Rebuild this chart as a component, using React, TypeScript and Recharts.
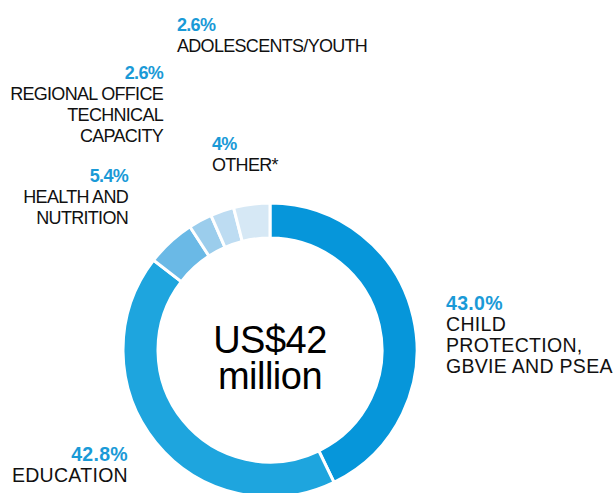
import React from 'react';
import { PieChart, Pie, Cell } from 'recharts';

const categories = [
    'CHILD PROTECTION, GBVIE AND PSEA',
    'EDUCATION',
    'HEALTH AND NUTRITION',
    'REGIONAL OFFICE TECHNICAL CAPACITY',
    'ADOLESCENTS/YOUTH',
    'OTHER*',
];
const values = [43.0, 42.8, 5.4, 2.6, 2.6, 4];
const pctLabels = ['43.0%', '42.8%', '5.4%', '2.6%', '2.6%', '4%'];
const labelLines = [
    ['CHILD', 'PROTECTION,', 'GBVIE AND PSEA'],
    ['EDUCATION'],
    ['HEALTH AND', 'NUTRITION'],
    ['REGIONAL OFFICE', 'TECHNICAL', 'CAPACITY'],
    ['ADOLESCENTS/YOUTH'],
    ['OTHER*'],
];
const colors = ['#0696da', '#1ea5de', '#6ab9e6', '#9bcdec', '#bddcf2', '#d6e8f5'];

const data = categories.map((name, i) => ({ name, value: values[i] }));

// where each text block sits around the ring
const labelPos: { left?: number; right?: number; top: number; size: number; spacing: number }[] = [
    { left: 446, top: 293, size: 19.5, spacing: 0.3 },
    { right: 487, top: 444, size: 19.5, spacing: 0.3 },
    { right: 487, top: 166, size: 18, spacing: -0.7 },
    { right: 452, top: 63, size: 18, spacing: -0.7 },
    { left: 177, top: 15, size: 18, spacing: -0.7 },
    { left: 212, top: 134, size: 18, spacing: -0.7 },
];

const font = '"Liberation Sans", Arial, Helvetica, sans-serif';

export default function App() {
    return (
        <div style={{ position: 'absolute', left: 0, top: 0, width: 615, height: 493, background: '#fff', fontFamily: font, overflow: 'hidden' }}>
            <PieChart width={615} height={493} margin={{ top: 0, right: 0, bottom: 0, left: 0 }}>
                <Pie
                    data={data}
                    dataKey="value"
                    cx={270}
                    cy={350}
                    innerRadius={112}
                    outerRadius={147}
                    startAngle={90}
                    endAngle={-270}
                    stroke="#fff"
                    strokeWidth={3}
                    isAnimationActive={false}
                >
                    {data.map((d, i) => <Cell key={d.name} fill={colors[i]} />)}
                </Pie>
            </PieChart>

            {categories.map((c, i) => {
                const p = labelPos[i];
                return (
                    <div key={c} style={{
                        position: 'absolute', left: p.left, right: p.right, top: p.top,
                        textAlign: p.right !== undefined ? 'right' : 'left',
                        fontSize: p.size, letterSpacing: p.spacing, lineHeight: '21px', color: '#111', whiteSpace: 'nowrap',
                    }}>
                        <div style={{ color: '#1a9ad7', fontWeight: 'bold' }}>{pctLabels[i]}</div>
                        {labelLines[i].map(l => <div key={l}>{l}</div>)}
                    </div>
                );
            })}

            <div style={{ position: 'absolute', left: 170, width: 200, top: 323, textAlign: 'center', fontSize: 38, lineHeight: '34px', color: '#000', letterSpacing: -0.5 }}>
                US$42
            </div>
            <div style={{ position: 'absolute', left: 170, width: 200, top: 359, textAlign: 'center', fontSize: 38, lineHeight: '34px', color: '#000', letterSpacing: -0.5 }}>
                million
            </div>
        </div>
    );
}
